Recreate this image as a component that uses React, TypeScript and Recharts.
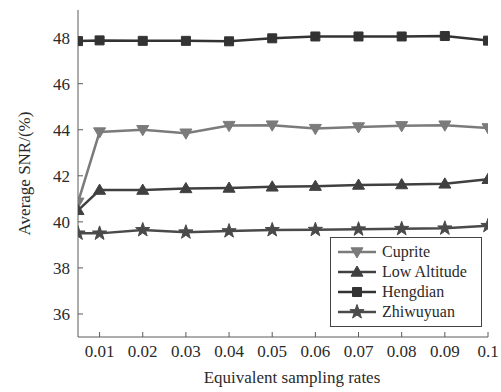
import React from 'react';
import { LineChart, Line, XAxis, YAxis, Legend } from 'recharts';

const rates = [0.005, 0.01, 0.02, 0.03, 0.04, 0.05, 0.06, 0.07, 0.08, 0.09, 0.1];
const cuprite = [40.85, 43.9, 44.0, 43.85, 44.18, 44.2, 44.05, 44.12, 44.17, 44.2, 44.08];
const lowAltitude = [40.5, 41.38, 41.38, 41.45, 41.47, 41.52, 41.55, 41.6, 41.62, 41.65, 41.85];
const hengdian = [47.85, 47.88, 47.86, 47.86, 47.84, 47.97, 48.05, 48.05, 48.05, 48.07, 47.87];
const zhiwuyuan = [39.5, 39.5, 39.65, 39.55, 39.6, 39.65, 39.66, 39.68, 39.7, 39.72, 39.83];

const xTicks = [0.01, 0.02, 0.03, 0.04, 0.05, 0.06, 0.07, 0.08, 0.09, 0.1];
const yTicks = [36, 38, 40, 42, 44, 46, 48];
const xTickLabels = ['0.01', '0.02', '0.03', '0.04', '0.05', '0.06', '0.07', '0.08', '0.09', '0.1'];

const data = rates.map((r, i) => ({
  rate: r,
  cuprite: cuprite[i],
  lowAltitude: lowAltitude[i],
  hengdian: hengdian[i],
  zhiwuyuan: zhiwuyuan[i],
}));

type Shape = 'down' | 'up' | 'square' | 'star';

const series: { key: string; name: string; color: string; shape: Shape; size: number }[] = [
  { key: 'cuprite', name: 'Cuprite', color: '#7b7b7b', shape: 'down', size: 6 },
  { key: 'lowAltitude', name: 'Low Altitude', color: '#404040', shape: 'up', size: 6 },
  { key: 'hengdian', name: 'Hengdian', color: '#333333', shape: 'square', size: 4.5 },
  { key: 'zhiwuyuan', name: 'Zhiwuyuan', color: '#4a4a4a', shape: 'star', size: 7.5 },
];

function shapePath(shape: Shape, cx: number, cy: number, r: number): string {
  if (shape === 'square') {
    return `M${cx - r},${cy - r}H${cx + r}V${cy + r}H${cx - r}Z`;
  }
  if (shape === 'up') {
    return `M${cx},${cy - r}L${cx + r},${cy + r * 0.7}L${cx - r},${cy + r * 0.7}Z`;
  }
  if (shape === 'down') {
    return `M${cx},${cy + r}L${cx + r},${cy - r * 0.7}L${cx - r},${cy - r * 0.7}Z`;
  }
  const pts: string[] = [];
  for (let k = 0; k < 10; k++) {
    const rr = k % 2 === 0 ? r : r * 0.4;
    const a = -Math.PI / 2 + (k * Math.PI) / 5;
    pts.push(`${cx + rr * Math.cos(a)},${cy + rr * Math.sin(a)}`);
  }
  return `M${pts.join('L')}Z`;
}

const makeDot = (shape: Shape, color: string, size: number) => (props: any) => {
  const { cx, cy, index } = props;
  if (cx == null || cy == null) return <g key={index} />;
  return <path key={index} d={shapePath(shape, cx, cy, size)} fill={color} stroke={color} strokeWidth={1} />;
};

const font = '"Liberation Serif", "Times New Roman", serif';
const axisColor = '#5a5a5a';
const textColor = '#2a2a2a';

const renderLegend = () => (
  <div
    style={{
      border: '1px solid #444',
      background: '#fff',
      padding: '4px 0 4px 6px',
      fontFamily: font,
      fontSize: 16,
      color: textColor,
      boxSizing: 'border-box',
      width: 152,
    }}
  >
    {series.map((s) => (
      <div key={s.key} style={{ display: 'flex', alignItems: 'center', height: 20 }}>
        <svg width={40} height={20} style={{ display: 'block' }}>
          <line x1={1} y1={10} x2={39} y2={10} stroke={s.color} strokeWidth={2.5} />
          <path d={shapePath(s.shape, 20, 10, s.size)} fill={s.color} stroke={s.color} />
        </svg>
        <span style={{ marginLeft: 5, lineHeight: '20px' }}>{s.name}</span>
      </div>
    ))}
  </div>
);

export default function App() {
  return (
    <div style={{ position: 'absolute', left: 0, top: 0, width: 501, height: 392, background: '#fff' }}>
      <LineChart
        width={501}
        height={392}
        data={data}
        margin={{ top: 10, right: 13, left: 0, bottom: 0 }}
      >
        <XAxis
          dataKey="rate"
          type="number"
          domain={[0.005, 0.1]}
          ticks={xTicks}
          allowDataOverflow
          height={55}
          tickSize={-5}
          tickMargin={13}
          stroke={axisColor}
          tick={{ fill: textColor, fontSize: 17, fontFamily: font }}
          tickFormatter={(v: number) => xTickLabels[xTicks.indexOf(v)] ?? String(v)}
          label={{
            content: (p: any) => {
              const vb = p.viewBox || {};
              return (
                <text
                  x={vb.x + vb.width / 2 + 9}
                  y={383}
                  textAnchor="middle"
                  fill={textColor}
                  fontSize={17}
                  fontFamily={font}
                >
                  Equivalent sampling rates
                </text>
              );
            },
          }}
        />
        <XAxis
          xAxisId="top"
          dataKey="rate"
          type="number"
          orientation="top"
          domain={[0.005, 0.1]}
          ticks={xTicks}
          allowDataOverflow
          height={0}
          tickSize={-5}
          stroke={axisColor}
          tickFormatter={() => ''}
        />
        <YAxis
          type="number"
          domain={[35, 49.2]}
          ticks={yTicks}
          allowDataOverflow
          width={78}
          tickSize={-5}
          tickMargin={13}
          stroke={axisColor}
          tick={{ fill: textColor, fontSize: 17, fontFamily: font }}
          label={{
            content: (p: any) => {
              const vb = p.viewBox || {};
              const cy = vb.y + vb.height / 2;
              return (
                <text
                  transform={`translate(30, ${cy}) rotate(-90)`}
                  textAnchor="middle"
                  fill={textColor}
                  fontSize={17}
                  fontFamily={font}
                >
                  Average SNR/(%)
                </text>
              );
            },
          }}
        />
        <YAxis
          yAxisId="right"
          orientation="right"
          type="number"
          domain={[35, 49.2]}
          ticks={yTicks}
          allowDataOverflow
          width={0}
          tickSize={-5}
          stroke={axisColor}
          tickFormatter={() => ''}
        />
        {series.map((s) => (
          <Line
            key={s.key}
            dataKey={s.key}
            name={s.name}
            stroke={s.color}
            strokeWidth={2.5}
            dot={makeDot(s.shape, s.color, s.size)}
            activeDot={false}
            isAnimationActive={false}
            type="linear"
          />
        ))}
        <Legend
          layout="vertical"
          align="center"
          verticalAlign="middle"
          content={renderLegend}
          wrapperStyle={{ left: 330, top: 237, width: 152 }}
        />
      </LineChart>
    </div>
  );
}
